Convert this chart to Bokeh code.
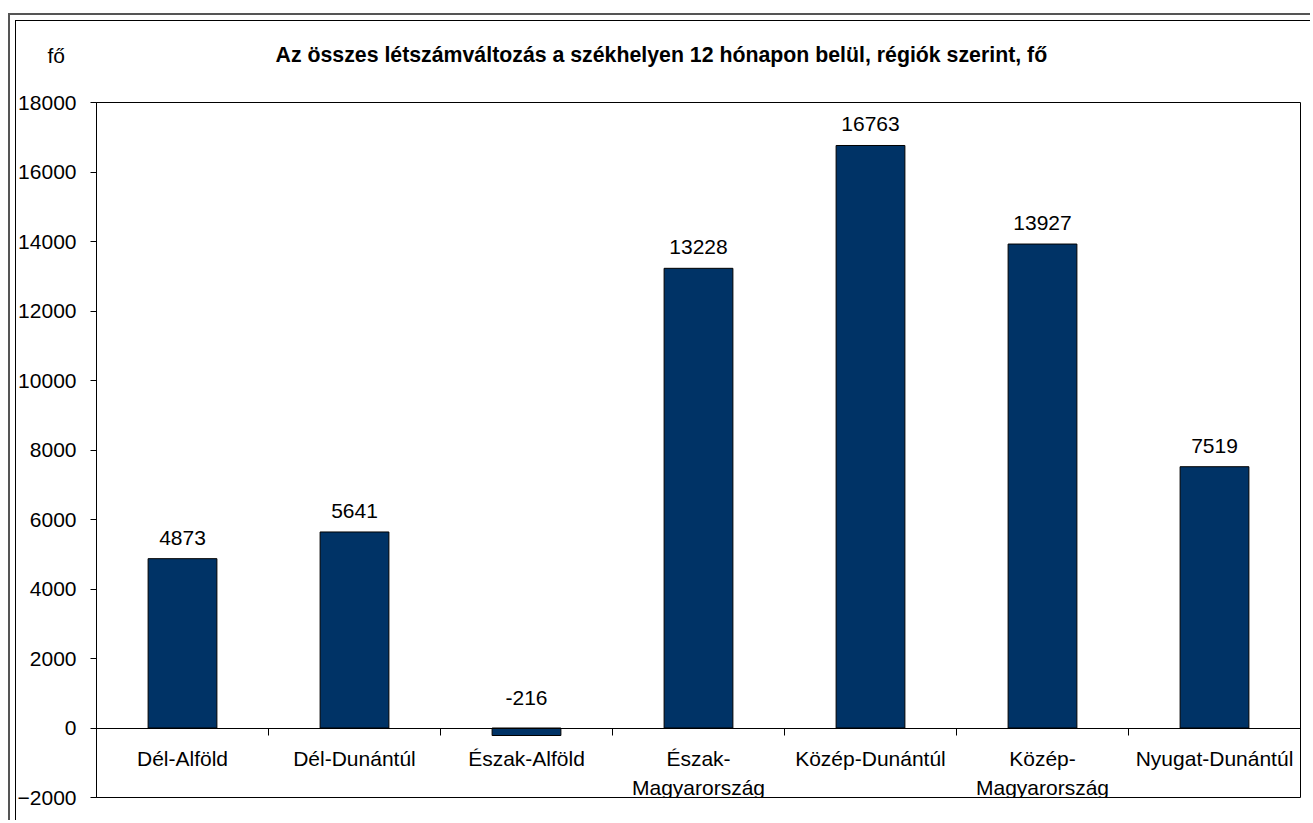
from bokeh.plotting import figure
from bokeh.models import (FactorRange, Range1d, LinearAxis, CategoricalAxis, FixedTicker,
                          ColumnDataSource, Title, CustomJSTickFormatter)
from bokeh.embed import file_html
from bokeh.resources import INLINE
from bokeh.core.properties import value

categories = ["Dél-Alföld", "Dél-Dunántúl", "Észak-Alföld", "Észak-\nMagyarország",
              "Közép-Dunántúl", "Közép-\nMagyarország", "Nyugat-Dunántúl"]
values = [4873, 5641, -216, 13228, 16763, 13927, 7519]
y_ticks = [-2000, 0, 2000, 4000, 6000, 8000, 10000, 12000, 14000, 16000, 18000]
title_text = "Az összes létszámváltozás a székhelyen 12 hónapon belül, régiók szerint, fő"
unit_text = "fő"

FONT = "Liberation Sans"
BAR = "#003366"

src = ColumnDataSource(dict(
    cat=categories,
    val=values,
    label=[str(v) for v in values],
    ly=[max(v, 0) for v in values],
    off=[-21 if v >= 0 else -30 for v in values],
))

p = figure(width=1310, height=820, x_range=FactorRange(*categories, range_padding=0),
           y_range=Range1d(-2000, 18000), output_backend="svg", toolbar_location=None,
           x_axis_location=None, y_axis_location=None,
           min_border_left=96, min_border_top=102, min_border_right=10, min_border_bottom=23)

p.background_fill_color = "white"
p.border_fill_color = None
p.outline_line_color = "black"
p.outline_line_width = 1
p.xgrid.visible = False
p.ygrid.visible = False

p.vbar(x="cat", top="val", bottom=0, width=0.4, source=src,
       fill_color=BAR, line_color="black", line_width=1)

p.text(x="cat", y="ly", text="label", source=src, y_offset="off",
       text_align="center", text_baseline="middle",
       text_font=value(FONT), text_font_size="21px", text_color="black")

# y axis
yax = LinearAxis(ticker=FixedTicker(ticks=y_ticks, minor_ticks=[]))
yax.axis_line_color = "black"
yax.major_tick_out = 6
yax.major_tick_in = 0
yax.minor_tick_line_color = None
yax.major_label_standoff = 14
yax.major_label_text_font = FONT
yax.major_label_text_font_size = "21px"
yax.major_label_text_color = "black"
p.add_layout(yax, "left")

# zero line with ticks at the category boundaries
bax = LinearAxis(ticker=FixedTicker(ticks=list(range(1, len(categories))), minor_ticks=[]))
bax.fixed_location = 0
bax.axis_line_color = "black"
bax.major_tick_out = 7
bax.major_tick_in = 0
bax.minor_tick_line_color = None
bax.major_label_text_font_size = "0px"
bax.formatter = CustomJSTickFormatter(code="return ''")
p.add_layout(bax, "below")

# category labels at zero line
cax = CategoricalAxis()
cax.fixed_location = 0
cax.axis_line_color = None
cax.major_tick_line_color = None
cax.major_tick_out = 0
cax.major_tick_in = 0
cax.major_label_standoff = 19
cax.major_label_text_font = FONT
cax.major_label_text_font_size = "21px"
cax.major_label_text_color = "black"
cax.major_label_text_line_height = 1.25
p.add_layout(cax, "below")

p.add_layout(Title(text=title_text, align="left", offset=179, standoff=72,
                   text_font=FONT, text_font_size="21.3px", text_font_style="bold",
                   text_color="black"), "above")
p.add_layout(Title(text=unit_text, align="left", offset=-49, standoff=-124,
                   text_font=FONT, text_font_size="21px", text_font_style="normal",
                   text_color="black"), "above")

p.styles = {
    "background": ("linear-gradient(#555,#555) 8px 13px / 2px 100% no-repeat, "
                   "linear-gradient(#555,#555) 8px 13px / 100% 2px no-repeat, "
                   "linear-gradient(#000,#000) 15px 20px / 1px 100% no-repeat, "
                   "linear-gradient(#000,#000) 15px 20px / 100% 1px no-repeat, white"),
}

open("out.html", "w").write(file_html(p, INLINE))
